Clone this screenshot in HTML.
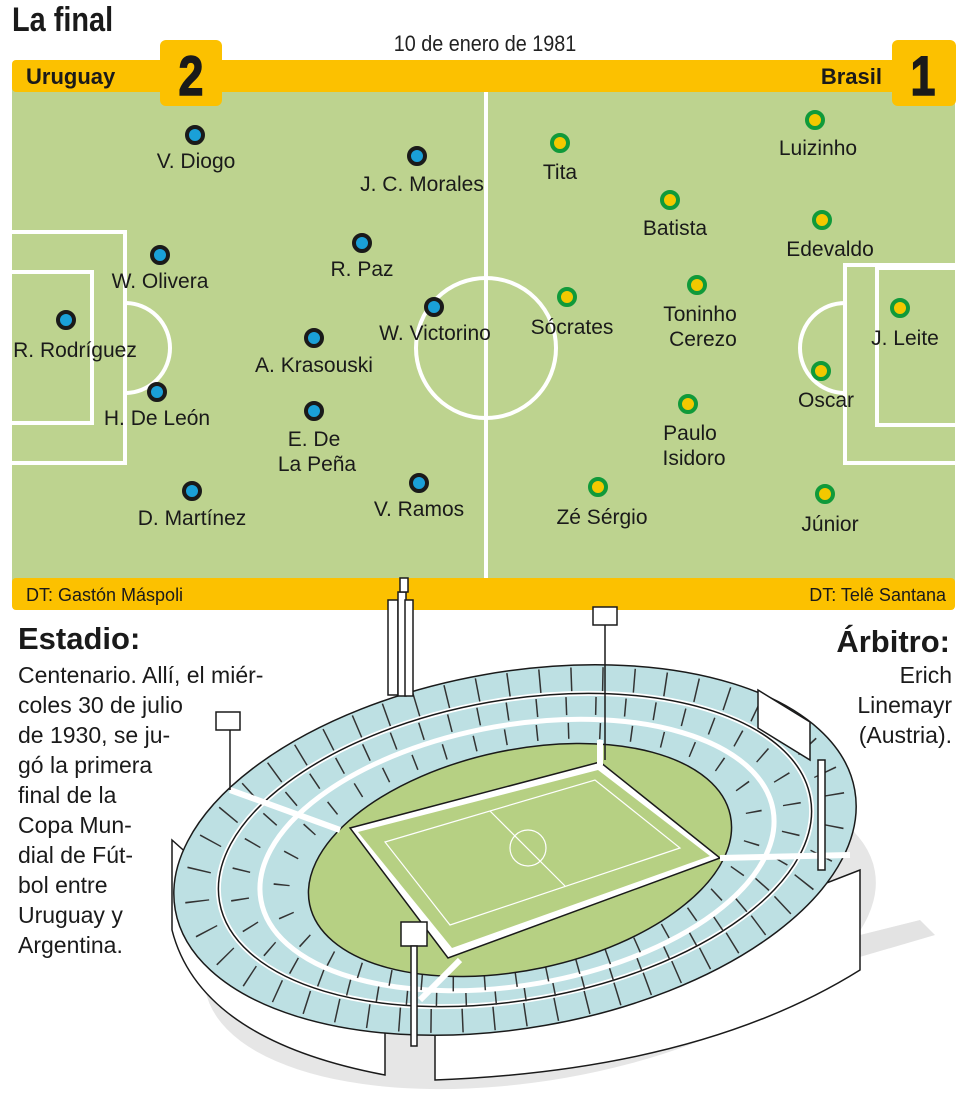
<!DOCTYPE html>
<html><head><meta charset="utf-8"><style>
body{margin:0;width:960px;height:1108px;background:#fff;position:relative;overflow:hidden;font-family:"Liberation Sans",sans-serif;}
.a{position:absolute;}
</style></head><body>
<svg class="a" style="left:0;top:0" width="960" height="1108" viewBox="0 0 960 1108" font-family="Liberation Sans, sans-serif">
<text x="12" y="31" font-size="34" font-weight="bold" fill="#1a1a1a" transform="translate(12,0) scale(0.85,1) translate(-12,0)">La final</text>
<text x="485" y="51" font-size="22" text-anchor="middle" fill="#222" transform="translate(485,0) scale(0.9,1) translate(-485,0)">10 de enero de 1981</text>
<!-- field -->
<rect x="12" y="80" width="943" height="505" fill="#bdd38f"/>
<g stroke="#fff" stroke-width="4" fill="none">
<line x1="486" y1="92" x2="486" y2="578"/>
<circle cx="486" cy="348" r="70"/>
<rect x="10" y="232" width="115" height="231"/>
<rect x="10" y="272" width="82" height="151"/>
<path d="M125 303 A45 45 0 0 1 125 393"/>
<rect x="845" y="265" width="115" height="198"/>
<rect x="877" y="268" width="85" height="157"/>
<path d="M845 303 A45 45 0 0 0 845 393"/>
</g>
<!-- bars -->
<rect x="12" y="60" width="943" height="32" rx="4" fill="#fcc100"/>
<rect x="160" y="40" width="62" height="66" rx="6" fill="#fcc100"/>
<rect x="892" y="40" width="64" height="66" rx="6" fill="#fcc100"/>
<rect x="12" y="578" width="943" height="32" rx="4" fill="#fcc100"/>
<text x="26" y="84" font-size="22" font-weight="bold" fill="#1a1a1a">Uruguay</text>
<text x="882" y="84" font-size="22" font-weight="bold" fill="#1a1a1a" text-anchor="end">Brasil</text>
<text x="191" y="95" font-size="56" font-weight="bold" fill="#1a1a1a" text-anchor="middle" stroke="#1a1a1a" stroke-width="1.5" transform="translate(191,0) scale(0.8,1) translate(-191,0)">2</text>
<text x="923" y="95" font-size="56" font-weight="bold" fill="#1a1a1a" text-anchor="middle" stroke="#1a1a1a" stroke-width="1.5" transform="translate(923,0) scale(0.8,1) translate(-923,0)">1</text>
<text x="26" y="601" font-size="18" fill="#1a1a1a">DT: Gastón Máspoli</text>
<text x="946" y="601" font-size="18" fill="#1a1a1a" text-anchor="end">DT: Telê Santana</text>
<!-- players -->
<g fill="#1aa0d8" stroke="#1a1a1a" stroke-width="4">
<circle cx="195" cy="135" r="8"/><circle cx="417" cy="156" r="8"/><circle cx="160" cy="255" r="8"/><circle cx="362" cy="243" r="8"/><circle cx="66" cy="320" r="8"/><circle cx="434" cy="307" r="8"/><circle cx="314" cy="338" r="8"/><circle cx="157" cy="392" r="8"/><circle cx="314" cy="411" r="8"/><circle cx="192" cy="491" r="8"/><circle cx="419" cy="483" r="8"/>
</g>
<g fill="#f3c800" stroke="#109a3a" stroke-width="4">
<circle cx="560" cy="143" r="8"/><circle cx="815" cy="120" r="8"/><circle cx="670" cy="200" r="8"/><circle cx="822" cy="220" r="8"/><circle cx="567" cy="297" r="8"/><circle cx="697" cy="285" r="8"/><circle cx="900" cy="308" r="8"/><circle cx="821" cy="371" r="8"/><circle cx="688" cy="404" r="8"/><circle cx="598" cy="487" r="8"/><circle cx="825" cy="494" r="8"/>
</g>
<g font-size="21" fill="#1a1a1a" text-anchor="middle">
<text x="196" y="168">V. Diogo</text><text x="422" y="191">J. C. Morales</text><text x="160" y="288">W. Olivera</text><text x="362" y="276">R. Paz</text><text x="75" y="357">R. Rodríguez</text><text x="435" y="340">W. Victorino</text><text x="314" y="372">A. Krasouski</text><text x="157" y="425">H. De León</text><text x="314" y="446">E. De</text><text x="317" y="471">La Peña</text><text x="192" y="525">D. Martínez</text><text x="419" y="516">V. Ramos</text>
<text x="560" y="179">Tita</text><text x="818" y="155">Luizinho</text><text x="675" y="235">Batista</text><text x="830" y="256">Edevaldo</text><text x="572" y="334">Sócrates</text><text x="700" y="321">Toninho</text><text x="703" y="346">Cerezo</text><text x="905" y="345">J. Leite</text><text x="826" y="407">Oscar</text><text x="690" y="440">Paulo</text><text x="694" y="465">Isidoro</text><text x="602" y="524">Zé Sérgio</text><text x="830" y="531">Júnior</text>
</g>
<!-- texts -->
<text x="18" y="649" font-size="31" font-weight="bold" fill="#1a1a1a">Estadio:</text>
<text x="950" y="652" font-size="31" font-weight="bold" fill="#1a1a1a" text-anchor="end">Árbitro:</text>
<g font-size="23" fill="#1a1a1a">
<text x="18" y="683">Centenario. Allí, el miér-</text>
<text x="18" y="713">coles 30 de julio</text>
<text x="18" y="743">de 1930, se ju-</text>
<text x="18" y="773">gó la primera</text>
<text x="18" y="803">final de la</text>
<text x="18" y="833">Copa Mun-</text>
<text x="18" y="863">dial de Fút-</text>
<text x="18" y="893">bol entre</text>
<text x="18" y="923">Uruguay y</text>
<text x="18" y="953">Argentina.</text>
<g text-anchor="end"><text x="952" y="683">Erich</text><text x="952" y="713">Linemayr</text><text x="952" y="743">(Austria).</text></g>
</g>
<!-- stadium -->
<g stroke="#1a1a1a" stroke-width="1.5">
<path d="M600 1000 L920 920 L935 935 L610 1030 Z" fill="#e3e3e3" stroke="none"/>
<ellipse cx="540" cy="930" rx="340" ry="150" transform="rotate(-10 540 930)" fill="#e6e6e6" stroke="none"/>
<path d="M172 840 L172 930 Q200 1040 385 1075 L385 1030 Z" fill="#fff"/>
<path d="M435 1035 L435 1080 Q700 1070 860 970 L860 870 Z" fill="#fff"/>
<ellipse cx="515" cy="850" rx="345" ry="178" transform="rotate(-10 515 850)" fill="#bde0e3"/>
<ellipse cx="515" cy="850" rx="322" ry="164" transform="rotate(-10 515 850)" fill="none" stroke-width="24" stroke-dasharray="1.5 30" stroke="#333"/>
<ellipse cx="515" cy="850" rx="300" ry="150" transform="rotate(-10 515 850)" fill="none" stroke="#fff" stroke-width="5"/>
<ellipse cx="515" cy="850" rx="300" ry="150" transform="rotate(-10 515 850)" fill="none"/>
<ellipse cx="516" cy="852" rx="280" ry="140" transform="rotate(-10 516 852)" fill="none" stroke-width="18" stroke-dasharray="1.5 28" stroke="#333"/>
<ellipse cx="517" cy="855" rx="260" ry="130" transform="rotate(-10 517 855)" fill="none" stroke="#fff" stroke-width="5"/>
<ellipse cx="518" cy="857" rx="240" ry="120" transform="rotate(-11 518 857)" fill="none" stroke-width="16" stroke-dasharray="1.5 30" stroke="#333"/>
<ellipse cx="520" cy="860" rx="215" ry="110" transform="rotate(-12 520 860)" fill="#b6d083"/>
<polygon points="350,828 600,762 720,858 448,958" fill="#fff"/>
<polygon points="358,832 598,770 710,856 452,948" fill="#b6d083" stroke="none"/>
<g stroke="#fff" stroke-width="1.2" fill="none"><polygon points="385,842 595,780 680,848 450,925"/><line x1="490" y1="811" x2="565" y2="886"/><circle cx="528" cy="848" r="18"/></g>
<path d="M230 790 L340 830 M420 1000 L460 960 M600 740 L600 765 M720 858 L850 855" stroke="#fff" stroke-width="6"/>
<rect x="388" y="600" width="10" height="95" fill="#fff"/><rect x="398" y="592" width="8" height="104" fill="#fff"/><rect x="405" y="600" width="8" height="96" fill="#fff"/>
<rect x="400" y="578" width="8" height="14" fill="#fff"/>
<rect x="593" y="607" width="24" height="18" fill="#fff"/><line x1="605" y1="625" x2="605" y2="760"/>
<rect x="216" y="712" width="24" height="18" fill="#fff" transform="skewY(-25 228 721)"/><line x1="230" y1="730" x2="230" y2="790"/>
<rect x="401" y="922" width="26" height="24" fill="#fff"/><rect x="411" y="946" width="6" height="100" fill="#fff"/>
<polygon points="758,690 810,722 810,760 758,728" fill="#fff"/><rect x="818" y="760" width="7" height="110" fill="#fff"/>
</g>
</svg>
</body></html>
